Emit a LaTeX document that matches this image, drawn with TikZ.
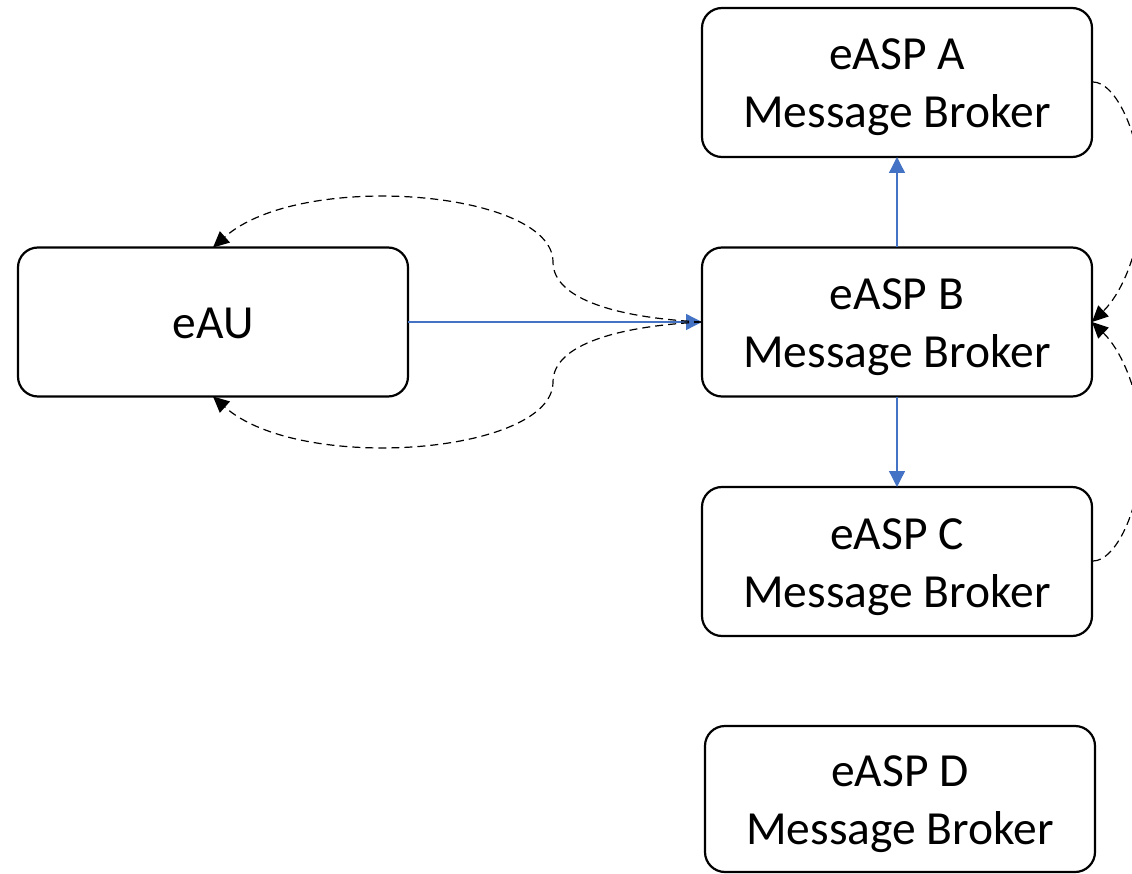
\documentclass[tikz,border=0pt]{standalone}
\usepackage{fontspec}
\setmainfont{Carlito}
\usetikzlibrary{arrows.meta}
\definecolor{linkblue}{HTML}{4472C4}
\tikzset{
  box/.style={draw=black, line width=2.2pt, rounded corners=20pt, fill=white,
    minimum width=390pt, minimum height=149pt, inner sep=0pt, outer sep=0pt,
    align=center, font=\fontsize{47.5}{58}\selectfont},
  broker/.style={box, text height=91pt, text depth=0pt},
  unit/.style={box, text height=32pt, text depth=0pt},
  flow/.style={draw=linkblue, line width=1.3pt,
    -{Triangle[length=16pt,width=16pt]}},
  reply/.style={draw=black, line width=1.2pt, dash pattern=on 8pt off 5pt,
    -{Triangle[length=16pt,width=15pt]}},
}
\begin{document}
\begin{tikzpicture}[x=1pt,y=-1pt]
\useasboundingbox (0,0) rectangle (1132,874);
\clip (0,0) rectangle (1132,874);

% components
\node[unit]   (eau) at (213,322)   {eAU};
\node[broker] (a)   at (897,82.5)  {eASP A\\Message Broker};
\node[broker] (b)   at (897,322)   {eASP B\\Message Broker};
\node[broker] (c)   at (897,561.5) {eASP C\\Message Broker};
\node[broker, minimum height=146pt] (d) at (900,799) {eASP D\\Message Broker};

% start points of the curved replies on A and C
\coordinate (ae) at (1093,82);
\coordinate (ce) at (1093,561);

% requests
\draw[flow] (eau.east) -- (b.west);
\draw[flow] (b.north) -- (a.south);
\draw[flow] (b.south) -- (c.north);

% replies back to eAU
\draw[reply] (b.west) .. controls (620,318) and (553,300) .. (553,262)
  .. controls (553,190) and (300,170) .. (eau.north);
\draw[reply] (b.west) .. controls (620,326) and (553,344) .. (553,382)
  .. controls (553,454) and (300,474) .. (eau.south);

% replies from A and C into B
\draw[reply] (ae) .. controls (1115,82) and (1140,132) .. (1142,192)
  .. controls (1142,252) and (1120,295) .. (b.east);
\draw[reply] (ce) .. controls (1115,561) and (1140,512) .. (1142,452)
  .. controls (1142,392) and (1120,349) .. (b.east);
\end{tikzpicture}
\end{document}
